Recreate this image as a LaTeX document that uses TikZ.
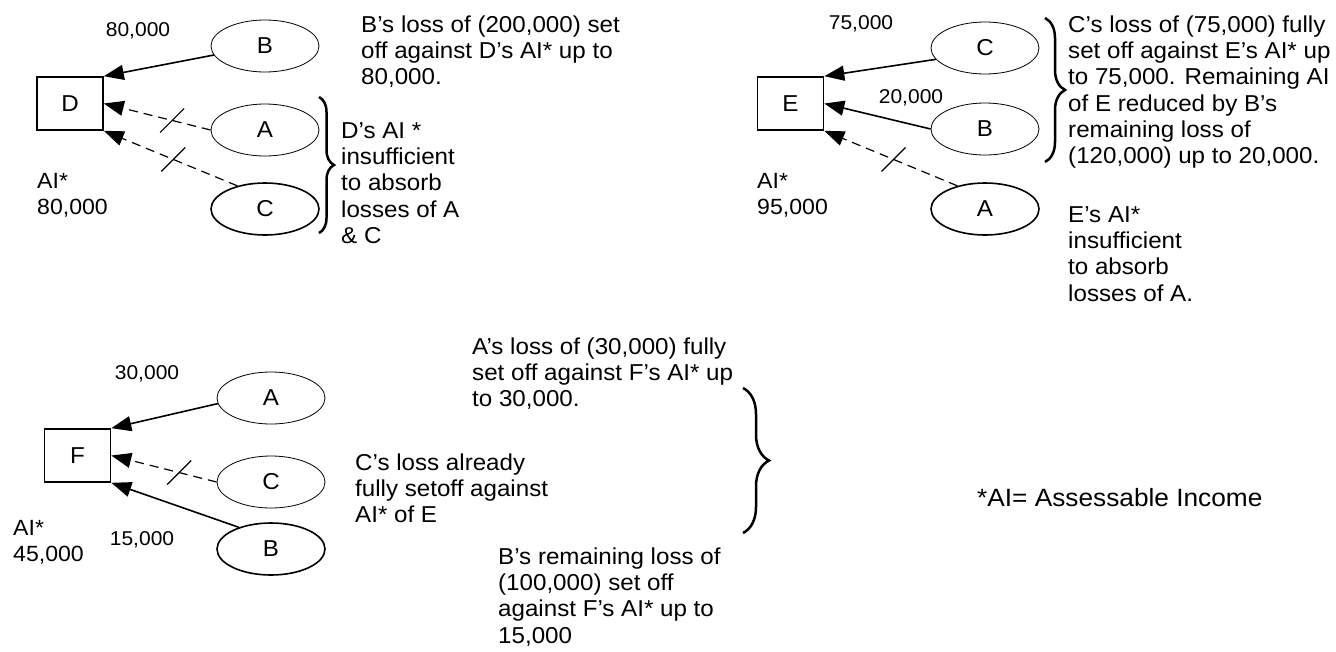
\documentclass[tikz,border=0pt]{standalone}
\usepackage{fontspec}
\setmainfont{Liberation Sans}[FakeStretch=1.05]
\usetikzlibrary{arrows.meta,shapes.geometric,decorations.pathreplacing}
\tikzset{
  txt/.style={font=\fontsize{23}{26.3}\selectfont, align=left, anchor=north west, inner sep=0pt},
  lbl/.style={font=\fontsize{20}{24}\selectfont, anchor=base, inner sep=0pt},
  ai/.style={font=\fontsize{22}{26}\selectfont, align=left, anchor=north west, inner sep=0pt},
  company/.style={draw, line width=1.6pt, minimum width=66pt, minimum height=53pt, inner sep=0pt, font=\fontsize{23}{26}\selectfont},
  loss/.style={ellipse, draw, line width=0.8pt, minimum width=108pt, minimum height=52pt, inner sep=0pt, font=\fontsize{23}{26}\selectfont},
  lossthick/.style={loss, line width=1.6pt},
  setoff/.style={-{Triangle[length=20pt,width=15pt]}, line width=1.6pt},
  noset/.style={setoff, line width=1.2pt, dash pattern=on 9pt off 6pt},
  bracestyle/.style={decorate, decoration={brace, amplitude=#1}, line width=2.5pt},
  tickmark/.pic={\draw[-, solid, line width=1.2pt] (-12,12) -- (12,-12);}
}
\begin{document}
\begin{tikzpicture}[x=1pt,y=-1pt]
\useasboundingbox (0,0) rectangle (1336,651);

% ---------- group D ----------
\node[company] (D) at (70,103.5) {D};
\node[loss] (DB) at (265,46) {B};
\node[loss] (DA) at (265,130) {A};
\node[lossthick] (DC) at (265,209) {C};
\draw[setoff] (DB.190) -- (D.north east);
\draw[noset] (DA.west) -- (D.east) coordinate[pos=0.36] (tDA);
\draw[noset] (DC.140) -- (D.south east) coordinate[pos=0.48] (tDC);
\pic at (tDA) {tickmark};
\pic at (tDC) {tickmark};
\node[lbl] (l80) at (138,36) {80,000};
\node[ai] (aiD) at (37,169.7) {\strut AI*\\80,000};
\node[txt] (tD1) at (361,13.5) {\strut B’s loss of (200,000) set\\off against D’s AI* up to\\80,000.};
\draw[bracestyle=15pt] (319,97) -- (319,233);
\node[txt] (tD2) at (341,119.7) {\strut D’s AI *\\insufficient\\to absorb\\losses of A\\\& C};

% ---------- group E ----------
\node[company] (E) at (790.5,103.5) {E};
\node[loss] (EC) at (985,48) {C};
\node[loss] (EB) at (985,129) {B};
\node[lossthick] (EA) at (985,209) {A};
\draw[setoff] (EC.193) -- (E.north east);
\draw[setoff] (EB.west) -- (E.east);
\draw[noset] (EA.140) -- (E.south east) coordinate[pos=0.48] (tEA);
\pic at (tEA) {tickmark};
\node[lbl] (l75) at (861,29) {75,000};
\node[lbl] (l20) at (911,103) {20,000};
\node[ai] (aiE) at (757,169.7) {\strut AI*\\95,000};
\draw[bracestyle=20pt] (1045,18) -- (1045,162);
\node[txt] (tE1) at (1068,13.5) {\strut C’s loss of (75,000) fully\\set off against E’s AI* up\\to 75,000. Remaining AI\\of E reduced by B’s\\remaining loss of\\(120,000) up to 20,000.};
\node[txt] (tE2) at (1068,203.7) {\strut E’s AI*\\insufficient\\to absorb\\losses of A.};

% ---------- group F ----------
\node[company] (F) at (77.5,455.5) {F};
\node[loss] (FA) at (271,398) {A};
\node[loss] (FC) at (271,482) {C};
\node[lossthick] (FB) at (271,549) {B};
\draw[setoff] (FA.186) -- (F.north east);
\draw[noset] (FC.west) -- (F.east) coordinate[pos=0.355] (tFC);
\pic at (tFC) {tickmark};
\draw[setoff] (FB.146) -- (F.south east);
\node[lbl] (l30) at (147,379) {30,000};
\node[lbl] (l15) at (142,545) {15,000};
\node[ai] (aiF) at (13,516.7) {\strut AI*\\45,000};
\node[txt] (tF1) at (472,335.7) {\strut A’s loss of (30,000) fully\\set off against F’s AI* up\\to 30,000.};
\node[txt] (tF2) at (355,451.7) {\strut C’s loss already\\fully setoff against\\AI* of E};
\node[txt] (tF3) at (498,545.7) {\strut B’s remaining loss of\\(100,000) set off\\against F’s AI* up to\\15,000};
\draw[bracestyle=26pt] (743,388) -- (743,533);

% ---------- legend ----------
\node[font=\fontsize{25}{29}\selectfont, anchor=base west, inner sep=0pt] (legend) at (977,506) {*AI= Assessable Income};
\end{tikzpicture}
\end{document}
